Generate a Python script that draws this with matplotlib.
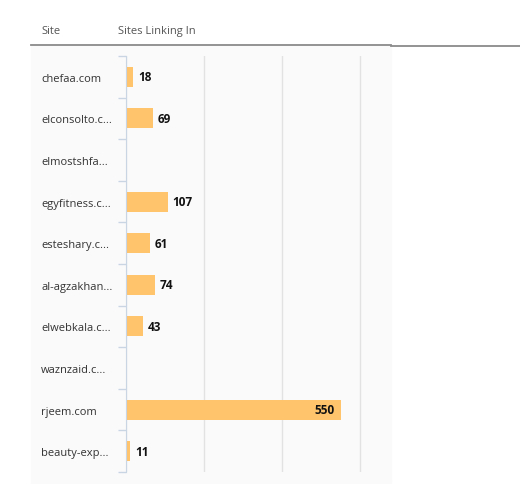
import numpy as np
import matplotlib.pyplot as plt
from matplotlib.patches import Rectangle
from matplotlib.lines import Line2D

plt.rcParams['font.family'] = ['Open Sans', 'DejaVu Sans']

# data
sites = ['chefaa.com', 'elconsolto.c...', 'elmostshfa...', 'egyfitness.c...',
         'esteshary.c...', 'al-agzakhan...', 'elwebkala.c...', 'waznzaid.c...',
         'rjeem.com', 'beauty-exp...']
links = [18, 69, np.nan, 107, 61, 74, 43, np.nan, 550, 11]
x_ticks = [0, 200, 400, 600]

W, H = 520, 485
fig = plt.figure(figsize=(W / 100, H / 100), dpi=100)

# light panel behind the table
fig.patches.append(Rectangle((31 / W, 0), (391 - 31) / W, (H - 47) / H,
                             transform=fig.transFigure, color='#fafafa', zorder=-5))
# header rule
fig.lines.append(Line2D([31 / W, 391 / W], [1 - 46 / H] * 2, transform=fig.transFigure,
                        color='#8a8a8a', lw=1.3))
fig.lines.append(Line2D([391 / W, 1], [1 - 47 / H] * 2, transform=fig.transFigure,
                        color='#8a8a8a', lw=1.3))
fig.text(41 / W, 1 - 34 / H, 'Site', fontsize=8, color='#555555', va='baseline')
fig.text(118 / W, 1 - 34 / H, 'Sites Linking In', fontsize=8, color='#555555', va='baseline')

ax = fig.add_axes([126 / W, 12 / H, (362 - 126) / W, (473 - 57) / H])
ax.set_facecolor('none')

y = np.arange(len(sites))
ax.barh(y, links, height=0.48, color='#ffc46c', zorder=2)

for yi, v in zip(y, links):
    if np.isnan(v):
        continue
    if v > 400:
        ax.annotate(f'{v:.0f}', (v, yi), xytext=(-4, 0), textcoords='offset points',
                    ha='right', va='center', fontsize=8.5, fontweight='bold', color='#111111')
    else:
        ax.annotate(f'{v:.0f}', (v, yi), xytext=(3.5, 0), textcoords='offset points',
                    ha='left', va='center', fontsize=8.5, fontweight='bold', color='#111111')

ax.set_xlim(0, 605)
ax.set_ylim(len(sites) - 0.5, -0.5)
ax.set_xticks(x_ticks)
ax.xaxis.grid(True, color='#e2e2e2', lw=1, zorder=0)
ax.tick_params(axis='x', length=0, labelbottom=False)

ax.set_yticks(y)
ax.set_yticklabels(sites, ha='left', fontsize=8, color='#333333')
ax.tick_params(axis='y', which='major', length=0, pad=85 * 0.72)
ax.set_yticks(np.arange(-0.5, len(sites)), minor=True)
ax.tick_params(axis='y', which='minor', length=6, color='#c9d5e3', width=1)

for s in ['top', 'right', 'bottom']:
    ax.spines[s].set_visible(False)
ax.spines['left'].set_color('#c9d5e3')

fig.savefig('out.png', dpi=100)
